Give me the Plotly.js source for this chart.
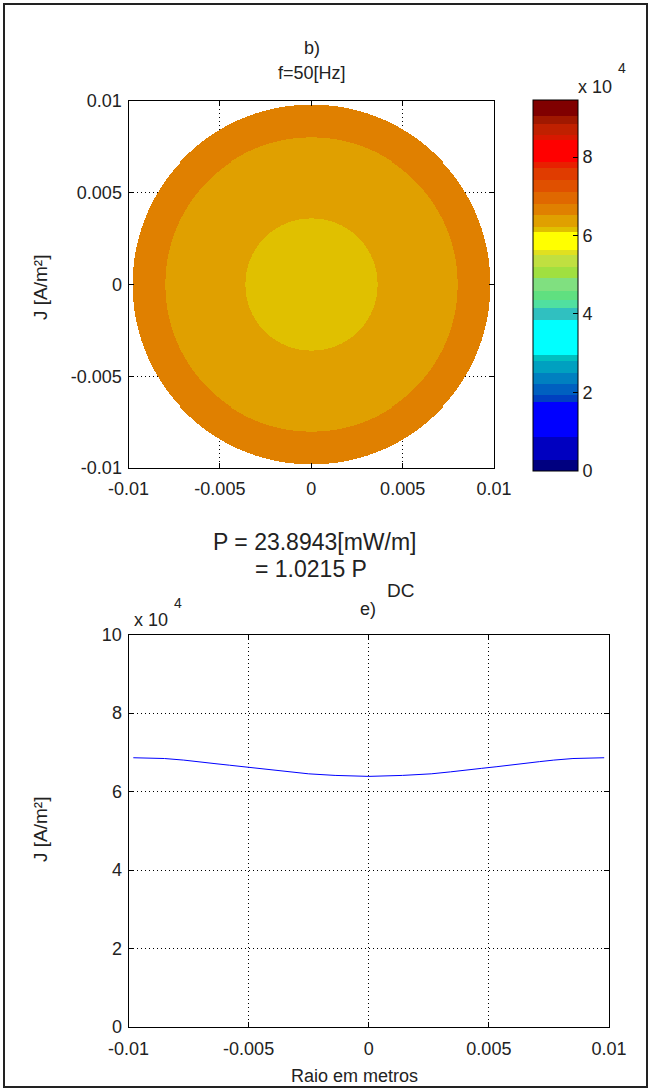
<!DOCTYPE html>
<html>
<head>
<meta charset="utf-8">
<script src="https://cdn.plot.ly/plotly-3.0.1.min.js"></script>
<style>
  html, body { margin: 0; padding: 0; background: #fff; }
  #chart { width: 651px; height: 1090px; }
</style>
</head>
<body>
<div id="chart"></div>
<script>
// ---------- data ----------
// Top plot: current density rings in the conductor cross-section (f = 50 Hz)
const ringRadius = [0.0098, 0.0080, 0.0036];   // outer radius of each ring [m]
const ringJ      = [66700, 63700, 61600];      // J in each ring [A/m²]

// Colour-bar bands (lower edge, upper edge in A/m²) and colours
const bandLow  = [0, 2800, 8700, 17700, 19400, 22200, 25100, 28000, 29600, 38500, 41500, 43600, 45900, 49100, 52100, 55000, 56300, 61000, 62200, 65200, 68200, 71200, 74100, 77300, 78800, 84300, 85800, 88600, 90500];
const bandHigh = [2800, 8700, 17700, 19400, 22200, 25100, 28000, 29600, 38500, 41500, 43600, 45900, 49100, 52100, 55000, 56300, 61000, 62200, 65200, 68200, 71200, 74100, 77300, 78800, 84300, 85800, 88600, 90500, 94600];
const bandColor = ['rgb(0,0,128)','rgb(0,0,192)','rgb(0,0,255)','rgb(0,64,192)','rgb(0,96,192)','rgb(0,128,192)','rgb(0,160,192)','rgb(0,192,192)','rgb(0,255,255)','rgb(48,192,192)','rgb(80,224,160)','rgb(96,224,128)','rgb(128,224,128)','rgb(160,224,64)','rgb(192,224,64)','rgb(224,224,32)','rgb(255,255,0)','rgb(224,192,0)','rgb(224,160,0)','rgb(224,128,0)','rgb(224,104,0)','rgb(224,80,0)','rgb(224,60,0)','rgb(232,32,0)','rgb(255,0,0)','rgb(216,24,0)','rgb(192,32,0)','rgb(160,24,0)','rgb(128,0,0)'];
const cbTickVals = [0, 20000, 40000, 60000, 80000];
const cbTickText = ['0', '2', '4', '6', '8'];

// Bottom plot: J along the diameter
const profileX = [-0.0098, -0.0085, -0.0077, -0.0070, -0.0064, -0.0058, -0.0052, -0.0047, -0.0040, -0.0034, -0.0025, -0.0014, 0, 0.0014, 0.0026, 0.0034, 0.0041, 0.0047, 0.0053, 0.0058, 0.0065, 0.0071, 0.0077, 0.0085, 0.0098];
const profileJ = [68600, 68400, 68000, 67600, 67100, 66700, 66300, 65900, 65400, 65000, 64500, 64100, 63850, 64100, 64500, 65000, 65400, 65900, 66300, 66700, 67100, 67600, 68000, 68400, 68600];

const xTickVals = [-0.01, -0.005, 0, 0.005, 0.01];
const xTickText = ['-0.01', '-0.005', '0', '0.005', '0.01'];
const yTickVals2 = [0, 20000, 40000, 60000, 80000, 100000];
const yTickText2 = ['0', '2', '4', '6', '8', '10'];

// ---------- build ----------
const W = 651, H = 1090;
const px = v => v / W;
const py = v => 1 - v / H;
const FONT = 'Liberation Sans, Arial, sans-serif';
const TXT = '#222';
const FS = 18;

const zmax = bandHigh[bandHigh.length - 1];
const colorscale = [];
for (let i = 0; i < bandColor.length; i++) {
  colorscale.push([bandLow[i] / zmax, bandColor[i]]);
  colorscale.push([bandHigh[i] / zmax, bandColor[i]]);
}

// grid for the cross-section image
const N = 364;
const gx = [];
for (let i = 0; i < N; i++) gx.push(-0.01 + (i + 0.5) * 0.02 / N);
const z = [];
for (let j = 0; j < N; j++) {
  const row = [];
  for (let i = 0; i < N; i++) {
    const r = Math.hypot(gx[i], gx[j]);
    let v = null;
    for (let k = 0; k < ringRadius.length; k++) {
      if (r <= ringRadius[k]) v = ringJ[k];
    }
    row.push(v);
  }
  z.push(row);
}

const heat = {
  type: 'heatmap', x: gx, y: gx, z: z, xaxis: 'x', yaxis: 'y',
  zmin: 0, zmax: zmax, colorscale: colorscale, zsmooth: false,
  hoverinfo: 'skip',
  colorbar: {
    x: px(532.5), xanchor: 'left', y: py(285.3), yanchor: 'middle',
    len: 371 / H, lenmode: 'fraction', thickness: 45, thicknessmode: 'pixels',
    outlinecolor: 'black', outlinewidth: 1, xpad: 0, ypad: 0,
    tickmode: 'array', tickvals: cbTickVals, ticktext: cbTickText,
    ticks: 'inside', ticklen: 5, tickcolor: 'black',
    tickfont: { family: FONT, size: FS, color: TXT }
  }
};

const line = {
  type: 'scatter', mode: 'lines', x: profileX, y: profileJ,
  xaxis: 'x2', yaxis: 'y2', line: { color: 'rgb(0,0,255)', width: 1 },
  hoverinfo: 'skip'
};

function ax(extra) {
  return Object.assign({
    showline: true, linecolor: 'black', linewidth: 1, mirror: 'ticks',
    ticks: 'inside', ticklen: 5, tickcolor: 'black',
    showgrid: true, gridcolor: 'black', griddash: '1px,3px', gridwidth: 1,
    zeroline: false, automargin: false, fixedrange: true,
    tickfont: { family: FONT, size: FS, color: TXT }
  }, extra);
}

const ann = (text, x, y, opts) => Object.assign({
  text: text, x: px(x), y: py(y), xref: 'paper', yref: 'paper',
  showarrow: false, xanchor: 'center', yanchor: 'middle',
  font: { family: FONT, size: FS, color: TXT }
}, opts || {});

const layout = {
  width: W, height: H,
  margin: { l: 0, r: 0, t: 0, b: 0 },
  paper_bgcolor: 'white', plot_bgcolor: 'white',
  showlegend: false,
  xaxis: ax({ domain: [px(128.5), px(494)], range: [-0.01, 0.01], tickmode: 'array', tickvals: xTickVals, ticktext: xTickText, anchor: 'y', ticklabelstandoff: 4 }),
  yaxis: ax({ domain: [py(468), py(101)], range: [-0.01, 0.01], tickmode: 'array', tickvals: xTickVals, ticktext: xTickText, anchor: 'x', ticklabelstandoff: 2 }),
  xaxis2: ax({ domain: [px(128.5), px(609)], range: [-0.01, 0.01], tickmode: 'array', tickvals: xTickVals, ticktext: xTickText, anchor: 'y2', ticklabelstandoff: 5 }),
  yaxis2: ax({ domain: [py(1027), py(634.5)], range: [0, 100000], tickmode: 'array', tickvals: yTickVals2, ticktext: yTickText2, anchor: 'x2', ticklabelstandoff: 2 }),
  annotations: [
    ann('b)', 312, 48),
    ann('f=50[Hz]', 312, 73),
    ann('x 10', 595, 87),
    ann('4', 622, 68, { font: { family: FONT, size: 14, color: TXT } }),
    ann('P = 23.8943[mW/m]', 314, 542, { font: { family: FONT, size: 23, color: TXT } }),
    ann('= 1.0215 P', 311, 569, { font: { family: FONT, size: 23, color: TXT } }),
    ann('DC', 385, 591, { xanchor: 'left', font: { family: FONT, size: 19, color: TXT } }),
    ann('e)', 368, 609),
    ann('x 10', 151, 620),
    ann('4', 178, 603, { font: { family: FONT, size: 14, color: TXT } }),
    ann('Raio em metros', 354, 1076),
    ann('J [A/m²]', 40, 288, { textangle: -90, font: { family: FONT, size: 19, color: TXT } }),
    ann('J [A/m²]', 40, 830, { textangle: -90, font: { family: FONT, size: 19, color: TXT } })
  ],
  shapes: [
    { type: 'rect', xref: 'paper', yref: 'paper', x0: px(4), x1: px(647), y0: py(1087), y1: py(4), line: { color: '#222', width: 2 }, fillcolor: 'rgba(0,0,0,0)' }
  ]
};

Plotly.newPlot('chart', [heat, line], layout, { staticPlot: true, displayModeBar: false });
</script>
</body>
</html>
